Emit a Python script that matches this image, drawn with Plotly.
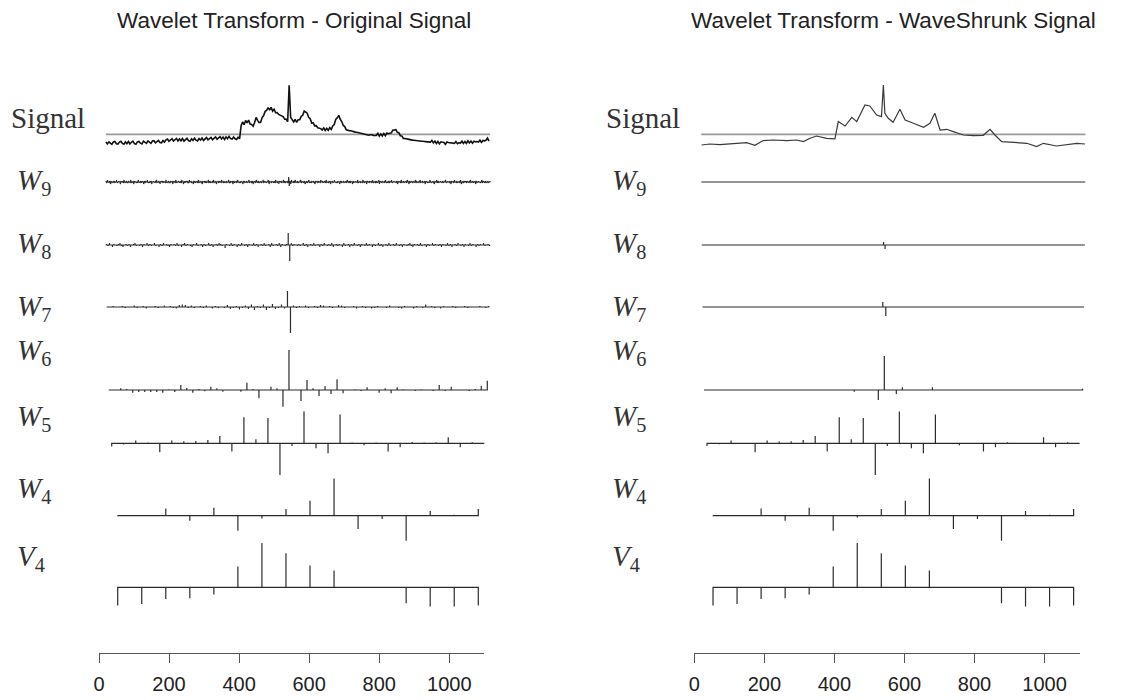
import numpy as np
import plotly.graph_objects as go

FIG_W, FIG_H = 1121, 700

# ------------------------------------------------------------------ data
# Original signal (every 4th sample), relative to its reference line
signal_step = 4
signal_orig = [
    -7.6, -9.6, -7.5, -9.3, -10.0, -7.7, -7.2, -9.5, -9.8, -7.8,
    -7.0, -9.2, -10.0, -7.5, -9.3, -7.2, -9.7, -8.0, -6.9, -9.4,
    -9.9, -7.6, -7.2, -8.9, -9.6, -6.8, -8.4, -9.1, -6.6, -8.3,
    -9.1, -6.7, -6.4, -8.5, -6.8, -6.1, -8.2, -8.5, -6.2, -7.8,
    -5.5, -4.7, -7.0, -5.3, -4.4, -6.7, -5.0, -4.1, -6.8, -4.6,
    -6.5, -4.3, -6.9, -4.9, -4.0, -6.3, -7.0, -4.5, -6.1, -3.8,
    -5.9, -6.6, -4.2, -5.8, -3.7, -6.1, -4.1, -3.3, -5.6, -3.9,
    -3.1, -5.4, -3.4, -2.6, -4.9, -3.0, -2.3, -4.6, -2.8, -5.1,
    -2.5, -4.4, -2.1, -4.3, -4.8, -2.7, -4.5, -5.1, -2.9, -4.5,
    8.5, 12.3, 9.6, 13.9, 11.4, 14.2, 10.3, 9.9, 8.1, 11.8,
    16.9, 14.0, 11.6, 12.0, 16.7, 18.8, 22.9, 23.8, 26.6, 24.1,
    26.9, 23.2, 25.1, 21.6, 21.8, 19.9, 19.4, 18.4, 17.6, 15.1,
    15.3, 12.6, 49.0, 16.8, 14.7, 12.4, 15.0, 11.9, 14.5, 14.6,
    17.9, 19.1, 23.2, 22.4, 21.1, 16.9, 15.6, 11.3, 11.5, 8.5,
    8.7, 6.6, 6.2, 5.7, 4.3, 6.4, 3.8, 5.9, 4.0, 6.6,
    4.9, 8.4, 9.8, 14.8, 16.5, 18.9, 15.0, 12.8, 8.8, 7.7,
    4.4, 4.4, 3.7, 3.5, 2.9, 2.7, 2.2, 2.0, 1.6, 1.2,
    0.7, 0.2, -0.1, -0.6, -0.9, -0.9, -0.4, -0.4, -1.2, -1.2,
    -1.1, 1.0, -1.9, 0.4, -1.7, 0.9, -1.4, 1.2, 0.6, 1.0,
    1.4, 4.2, 4.6, 4.7, 1.9, 1.6, -1.4, -1.6, -4.1, -4.0,
    -4.5, -4.8, -5.4, -5.5, -5.8, -6.0, -6.3, -6.3, -6.6, -6.6,
    -7.0, -7.0, -7.4, -7.3, -7.6, -7.6, -7.9, -6.0, -8.6, -6.8,
    -9.2, -7.1, -9.6, -7.5, -8.1, -8.2, -10.0, -7.7, -8.2, -8.3,
    -8.6, -8.7, -9.1, -7.2, -9.3, -8.5, -8.8, -6.9, -9.2, -7.3,
    -9.0, -6.5, -8.6, -6.8, -8.9, -7.0, -7.5, -7.2, -7.8, -5.9,
    -8.1, -6.2, -6.5, -6.0, -3.8, -6.9,
]

# WaveShrunk signal (read at irregular sample positions)
shrunk_idx = [1, 23, 50, 86, 121, 143, 165, 192, 228, 254, 272, 290, 307, 334,
              352, 356, 365, 383, 401, 414, 436, 449, 467, 480, 485, 489, 498,
              511, 529, 543, 565, 592, 609, 622, 636, 654, 671, 698, 725, 751,
              769, 782, 800, 831, 867, 893, 911, 946, 973, 1000, 1022]
shrunk_val = [-10.7, -9.7, -10.3, -9.0, -8.3, -11.0, -6.3, -5.7, -6.3, -5.7,
              -7.3, -4.0, -1.7, -4.0, -5.0, -4.5, 12.7, 8.3, 17.0, 12.7, 29.3,
              28.3, 19.3, 17.7, 49.3, 21.0, 16.0, 12.0, 25.0, 14.3, 11.0, 7.0,
              11.0, 21.0, 4.3, 5.0, 2.7, -0.7, -1.3, -1.0, 5.0, -0.7, -7.3,
              -8.3, -9.0, -12.3, -9.0, -11.7, -10.3, -9.0, -9.7]

# Wavelet coefficients, original signal
w9_orig = [
    1, -1, 2, 0, -1, 1, -2, 1, 0, -1, 1, 1, -1, 0, 2, -1, -1, 1, 0, -2, 1, 0, 1, -1, 2, -1, 0, 1, -1, -1, 1, 0,
    -1, 2, -1, 0, 1, -2, 1, 1, -1, 0, -1, 2, 0, -1, 1, -1, 1, 0, -2, 1, -1, 1, 0, 2, -1, 0, -1, 1, 1, -2, 0, 1,
    0, -1, 1, 2, -1, 0, 1, -1, -2, 1, 0, 1, -1, 1, 0, -1, 2, -1, 0, 1, -1, -1, 1, 0, 1, -2, 1, 0, -1, 2, -1, 0,
    1, 0, -1, 1, -1, 2, 0, -2, 1, -1, 1, 0, 1, -1, -1, 2, 0, 1, -1, 0, -2, 1, 1, -1, 0, 1, -1, 2, -1, 0, 1, -1,
    -2, 1, 0, 1, -1, 1, -1, 0, 2, -1, 1, -1, 0, -1, 1, 2, -1, 0, 1, -2, 0, 1, -1, 1, 0, -1, 2, 0, -1, 1, -1, 0,
    1, -1, 0, 2, -1, -1, 1, 0, 1, -2, 1, -1, 0, 1, -1, 2, 1, -1, 0, -1, 1, 0, -2, 1, 1, -1, 0, 1, -1, 0, 2, -1,
    0, 1, -1, 1, -2, 0, 1, -1, 2, 0, -1, 1, -1, 0, 1, -1, 0, 2, -1, 1, 0, -1, -1, 1, 2, -2, 1, 0, -1, 1, 0, -1,
    1, -1, 2, 0, -1, 1, -2, 1, 0, 1, -1, 0, 2, -1, 1, -1, 0, 1, -1, 5, -4, 1, -2, 2, 0, -1, 1, -1, 2, 0, -1, 1,
    -1, 0, 1, 2, -1, 1, 0, -1, 1, -2, 0, 1, -1, 1, 2, -1, 0, -1, 1, 0, 1, -1, -2, 1, 0, 1, -1, 1, 0, -1, 2, 0,
    1, -1, 0, 1, -1, 2, -1, 0, -1, 1, 1, -2, 0, 1, -1, 0, 2, 1, -1, 0, -1, 1, 0, -2, 1, 1, -1, 0, 1, -1, 0, 1,
    -1, 2, 0, -1, 1, -1, 1, 0, -2, 1, -1, 0, 1, 1, -1, 2, -1, 0, 1, -1, 0, -1, 2, 1, -1, 0, 1, -2, 1, 0, -1, 1,
    0, 1, -1, 2, -1, 0, 1, -1, 1, -1, 0, 2, -2, 1, 0, -1, 1, 0, -1, 1, 2, -1, 0, -1, 1, -1, 1, 0, 2, -1, -1, 1,
    1, 0, -1, 1, -2, 1, 0, 1, -1, 2, -1, 0, 1, -1, 0, 1, -1, 2, 0, -2, 1, -1, 1, 0, -1, 1, 0, -1, 2, 1, -1, 0,
    -1, 1, 2, -1, 0, 1, -1, 0, 1, -2, 1, 1, -1, 0, -1, 2, 1, -1, 0, 1, -1, -2, 1, 0, 2, -1, 1, -1, 0, 1, 0, -1,
    1, -1, 0, 1, 2, -1, -1, 1, 0, -1, 1, -2, 1, 0, 1, -1, 2, 0, -1, 1, -1, 0, 1, -1, 2, -2, 0, 1, -1, 1, 0, 1,
    -1, 1, 0, -1, 1, 2, -1, 0, 1, -1, 0, 1, -2, 1, -1, 0, 1, 1, -1, 0, 2, -1, 1, 0, -1, 1, -1, 0, 1, -1, 0, 1,
]
w8_orig = [
    1, -1, 2, 0, -2, 1, 0, -1, 1, 2, -1, -2, 0, 1, -1, 1, -2, 0, 1, 2, -1, 0, -1, 1, -2, 1, 0, 2, -1, 1, -1, 0,
    2, -1, 0, -2, 1, -1, 2, 0, 1, -1, -2, 1, 0, 1, -1, 2, -1, 0, -2, 1, 2, -1, 1, 0, -1, -2, 1, 0, 2, -1, 0, 1,
    -2, 1, -1, 0, 2, -1, 1, -2, 0, 1, -1, 2, 1, -1, 0, -3, 1, 0, -1, 2, -1, 1, 0, -2, 1, -1, 2, 0, -1, 1, -2, 1,
    0, -1, 2, -1, 1, -2, 0, 1, -1, 2, -1, 0, 1, -2, 2, -1, 0, 1, -1, 2, -2, 1, 0, -1, 1, 12, -16, 2, -1, 1, 0, -1,
    1, -1, 0, 2, -1, 1, -2, 0, 1, -1, 2, -1, 0, 1, -2, 1, -1, 2, 0, -1, 1, -1, 2, -2, 0, 1, -1, 1, 0, -2, 2, -1,
    0, 1, -2, 1, -1, 2, 0, -1, 1, -2, 1, 0, -1, 2, -1, 1, 0, -2, 1, -1, 0, 2, -1, 1, -2, 0, 1, -1, 2, -1, 0, 1,
    -1, 2, 0, -1, 1, -2, 1, 0, -1, 1, 2, -1, -2, 1, 0, 1, -1, 2, -1, 0, 1, -2, 1, -1, 0, 2, -1, 1, 0, -1, 1, -2,
    1, 0, -1, 2, -1, 1, -2, 0, 1, -1, 2, 0, -1, 1, -2, 1, 0, -1, 2, -1, 1, 0, -2, 1, -1, 1, 0, 2, -1, 0, 1, -1,
]
w7_orig = [
    0.5, -0.5, 1, -0.5, 0.5, 1, -1, 0.5, -0.5, 1.5, -1, 0.5, 1, -1.5, 0.5, -0.5,
    1, -1, 0.5, 1.5, -0.5, 1, -1, -1.5, 2, 2.5, 2, -1, 1.5, -1, 0.5, 1,
    -1, 1.5, -0.5, -1.5, 1, -1, 0.5, -1, 2, -2, -1, 1, -2.5, -1, 1.5, -2,
    2.5, -3, 1, -1, 2.5, -3, -1, 3, -2, -1, 2.5, -1.5, 16, -26, 1.5, -1,
    1, -0.5, 1.5, -1, 0.5, 1, -1, 2, 1.5, -0.5, 1, -1, 0.5, 2, 1.5, -1,
    0.5, -0.5, 1, -1.5, 0.5, 1, -1, 0.5, -1.5, -1, 1, -0.5, 0.5, -1, 1.5, -0.5,
    0.5, -1, -1.5, 1, -0.5, 0.5, -1.5, 1, 0.5, -1, 2.5, -0.5, 1, -1, 0.5, -1.5,
    1, 0.5, -0.5, 1, -1, 0.5, -0.5, 1, -1, 0.5, 0.5, -0.5, 1, -0.5, -1, 1,
]
w6_orig = [
    0, 0.5, 1.7, 1, -2.7, -2, -2, -2, -2, -2.7, 0.7, -2, 5, 2, -2.7, 1,
    -1.3, 3.3, 1.7, -1.7, 0.3, 0, -1.7, 7.3, 1, -8.3, 0, 3.3, 1.7, -16.7, 40, 0,
    -11, 10, 1.7, -6, 4, -4, 10.7, -3.3, 0.3, 0.7, -1, 2.7, 0.3, -2.7, 1.7, -3.3,
    2.7, 0.7, 0.3, -1, 0.7, 0.3, -1, 5, -1, 3.3, 0.3, 0, -1, 1, 4, 9.3,
]
w5_orig = [-3.3, -1.3, 2.7, 0.7, -9, 2.7, 2, 2.3, 3.3, 7.3, -8.3, 26, 4, 25.3, -31.7, -2.7,
           31.7, -5, -10, 28.7, 0.7, -2, 0.7, -8.3, -4, 1.3, 0.7, 1, 6, -4, 1, 0]
w4_orig = [0.3, 0.3, 7.3, -5, 8, -15, -2.7, 6.7, 15, 37.3, -13.3, -3.3, -25, 4.7, 1, 6.7]
v4_orig = [-18.3, -16.7, -11.7, -11, -7.3, 20.7, 44.3, 34, 21.7, 16.7, -0.7, -0.7,
           -16, -19.3, -19.3, -18.3]

# Wavelet coefficients after WaveShrink (nonzero entries for the sparse levels)
w9_shrunk_nonzero = {}
w8_shrunk_nonzero = {121: 3.0, 122: -4.0}
w7_shrunk_nonzero = {60: 5.0, 61: -9.0}
w6_shrunk_nonzero = {25: -1.7, 29: -10.0, 30: 34.0, 32: -4.0, 33: 2.7, 38: 2.7, 63: 1.3}
w5_shrunk = [-2.7, -1, 2.7, 0, -9, 2.7, 1.7, 2, 3.3, 7.3, -8.3, 26, 4, 25.3, -31.7, -2.7,
             31.7, -5, -10, 28.7, 0, -2, 0, -8.3, -4, 1, 0, 0.7, 6, -4, 1, 0]
w4_shrunk = [0.3, 0.3, 7.3, -5, 8, -15, -1.7, 6.7, 15, 37.3, -13.3, -3.3, -25, 4.7, 1, 6.7]
v4_shrunk = [-18.3, -16.7, -11.7, -11, -7.3, 20.7, 44.3, 34, 21.7, 16.7, -0.7, -0.7,
             -16, -19.3, -19.3, -18.3]

row_labels = ["Signal", "W9", "W8", "W7", "W6", "W5", "W4", "V4"]
axis_ticks = [0, 200, 400, 600, 800, 1000]
titles = ["Wavelet Transform - Original Signal", "Wavelet Transform - WaveShrunk Signal"]

N = 1024

# ------------------------------------------------------------------ helpers
def positions(n):
    step = N / n
    return [step * (k + 0.5) - 0.5 for k in range(n)]


def from_sparse(n, nz):
    vals = [0.0] * n
    for k, v in nz.items():
        vals[k] = v
    return vals


def spikes(vals):
    pos = positions(len(vals))
    xs, ys = [], []
    for p, v in zip(pos, vals):
        xs += [p, p, p]
        ys += [0, v, 0]
    return xs, ys


left_rows = [w9_orig, w8_orig, w7_orig, w6_orig, w5_orig, w4_orig, v4_orig]
right_rows = [from_sparse(512, w9_shrunk_nonzero), from_sparse(256, w8_shrunk_nonzero),
              from_sparse(128, w7_shrunk_nonzero), from_sparse(64, w6_shrunk_nonzero),
              w5_shrunk, w4_shrunk, v4_shrunk]

# layout geometry (pixels)
baselines = [134.3, 182, 245, 307, 390, 443.3, 515.7, 587.3]
halfs = [62, 55, 55, 55, 55, 55, 55, 55]
label_y = [118, 182, 245, 308, 352, 418, 490, 558]
px_per_idx = 0.3756
panel_origin = [105.87, 701.2]          # pixel of sample index 0
panel_px = [(100, 500), (695, 1095)]
bottom_axis_px = [(99, 484.3), (694.3, 1079.6)]
bottom_axis_y = 653
label_x = [[9, 15], [604, 610]]
title_x = [294, 893]

fig = go.Figure()
layout = dict()

SPIKE_COLOR = "#2b2b2b"

yid = 0
for p in range(2):
    xname = "x" if p == 0 else "x2"
    xkey = "xaxis" if p == 0 else "xaxis2"
    x0, x1 = panel_px[p]
    layout[xkey] = dict(
        domain=[x0 / FIG_W, x1 / FIG_W],
        range=[(x0 - panel_origin[p]) / px_per_idx, (x1 - panel_origin[p]) / px_per_idx],
        visible=False, fixedrange=True, automargin=False,
    )
    for r in range(8):
        yid += 1
        yname = "y" if yid == 1 else f"y{yid}"
        ykey = "yaxis" if yid == 1 else f"yaxis{yid}"
        b, h = baselines[r], halfs[r]
        layout[ykey] = dict(
            domain=[1 - (b + h) / FIG_H, 1 - (b - h) / FIG_H],
            range=[-h, h], visible=False, fixedrange=True, anchor=xname, automargin=False,
        )
        if r == 0:
            # reference line
            fig.add_trace(go.Scatter(
                x=[0, N - 1], y=[0, 0], mode="lines",
                line=dict(color="#9a9a9a", width=1.8),
                xaxis=xname, yaxis=yname, hoverinfo="skip", showlegend=False))
            if p == 0:
                sx = [signal_step * j for j in range(len(signal_orig))]
                fig.add_trace(go.Scatter(
                    x=sx, y=signal_orig, mode="lines",
                    line=dict(color="#111111", width=1.6),
                    xaxis=xname, yaxis=yname, hoverinfo="skip", showlegend=False))
            else:
                fig.add_trace(go.Scatter(
                    x=shrunk_idx, y=shrunk_val, mode="lines",
                    line=dict(color="#3a3a3a", width=1.2),
                    xaxis=xname, yaxis=yname, hoverinfo="skip", showlegend=False))
        else:
            vals = (left_rows if p == 0 else right_rows)[r - 1]
            xs, ys = spikes(vals)
            fig.add_trace(go.Scatter(
                x=xs, y=ys, mode="lines",
                line=dict(color=SPIKE_COLOR, width=1.2),
                xaxis=xname, yaxis=yname, hoverinfo="skip", showlegend=False))

# bottom axes
for p in range(2):
    xn = 3 + p
    yid += 1
    xname, xkey = f"x{xn}", f"xaxis{xn}"
    yname, ykey = f"y{yid}", f"yaxis{yid}"
    a0, a1 = bottom_axis_px[p]
    layout[ykey] = dict(domain=[1 - bottom_axis_y / FIG_H, 1 - (bottom_axis_y - 10) / FIG_H],
                        range=[0, 1], visible=False, fixedrange=True, anchor=xname,
                        automargin=False)
    layout[xkey] = dict(
        domain=[a0 / FIG_W, a1 / FIG_W], range=[0, 1100], anchor=yname, side="bottom",
        showline=True, linecolor="#555555", linewidth=1.2, showgrid=False, zeroline=False,
        ticks="outside", ticklen=9, tickwidth=1.2, tickcolor="#555555",
        tickvals=axis_ticks, ticktext=[str(t) for t in axis_ticks],
        ticklabelstandoff=4,
        tickfont=dict(family="Liberation Sans, Arial, sans-serif", size=20, color="#222222"),
        fixedrange=True, automargin=False,
    )
    fig.add_trace(go.Scatter(x=[0, 1100], y=[0.5, 0.5], mode="lines", opacity=0,
                             xaxis=xname, yaxis=yname, hoverinfo="skip", showlegend=False))

annotations = []
for p in range(2):
    annotations.append(dict(
        text=titles[p], x=title_x[p] / FIG_W, y=1 - 20 / FIG_H, xref="paper", yref="paper",
        xanchor="center", yanchor="middle", showarrow=False,
        font=dict(family="Liberation Sans, Arial, sans-serif", size=22.5, color="#222222")))
    for r, lab in enumerate(row_labels):
        if lab == "Signal":
            txt = "Signal"
            lx = label_x[p][0]
        else:
            txt = f"<i>{lab[0]}</i><sub>{lab[1:]}</sub>"
            lx = label_x[p][1]
        annotations.append(dict(
            text=txt, x=lx / FIG_W, y=1 - label_y[r] / FIG_H, xref="paper", yref="paper",
            xanchor="left", yanchor="middle", showarrow=False,
            font=dict(family="Liberation Serif, 'Times New Roman', serif", size=29, color="#333333")))

fig.update_layout(
    width=FIG_W, height=FIG_H, margin=dict(l=0, r=0, t=0, b=0, autoexpand=False),
    paper_bgcolor="white", plot_bgcolor="rgba(0,0,0,0)",
    showlegend=False, annotations=annotations, **layout)

fig.write_html("out.html")
